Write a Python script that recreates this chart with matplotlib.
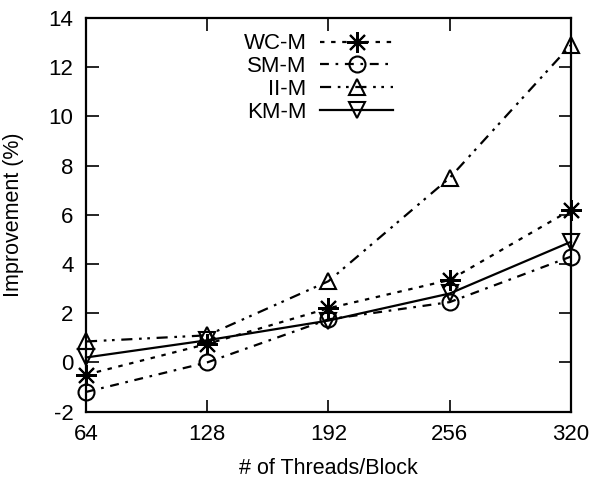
import matplotlib
matplotlib.use('Agg')
import matplotlib.pyplot as plt

plt.rcParams['font.family'] = ['Liberation Sans', 'DejaVu Sans']
plt.rcParams['axes.unicode_minus'] = False

threads = [64, 128, 192, 256, 320]
wc_m = [-0.5, 0.75, 2.2, 3.35, 6.2]
sm_m = [-1.2, 0.0, 1.75, 2.45, 4.3]
ii_m = [0.85, 1.1, 3.3, 7.5, 12.9]
km_m = [0.2, 0.9, 1.7, 2.8, 4.9]

fig = plt.figure(figsize=(5.96, 4.82), dpi=100)
ax = fig.add_axes([0.1443, 0.146, 0.8137, 0.817])

common = dict(color='black', lw=1.6, mew=1.5, mfc='none', clip_on=False)
ax.plot(threads, wc_m, label='WC-M', marker=(8, 2, 0), ms=15, ls=(0, (2, 3)), **common)
ax.plot(threads, sm_m, label='SM-M', marker='o', ms=11.5, ls=(0, (4, 3, 1.2, 3)), **common)
ax.plot(threads, ii_m, label='II-M', marker='^', ms=11.5, ls=(0, (5, 3, 1.2, 2.5, 1.2, 3)), **common)
ax.plot(threads, km_m, label='KM-M', marker='v', ms=11.5, ls='-', **common)

ax.set_xlim(64, 320)
ax.set_ylim(-2, 14)
ax.set_xticks(threads)
ax.set_yticks(range(-2, 15, 2))
ax.tick_params(direction='in', length=9, width=1.2, labelsize=16,
               top=True, right=True, pad=9)
for s in ax.spines.values():
    s.set_linewidth(1.6)

ax.set_xlabel('# of Threads/Block', fontsize=15.5, labelpad=9)
ax.set_ylabel('Improvement (%)', fontsize=15.5, labelpad=18)

leg = ax.legend(loc='upper left', bbox_to_anchor=(0.293, 1.0), frameon=False,
                markerfirst=False, fontsize=16, handlelength=3.3,
                handletextpad=0.6, labelspacing=0.08, borderaxespad=0.3)
for t in leg.get_texts():
    t.set_ha('right')
leg._legend_box.align = 'right'

fig.savefig('out.png', dpi=100)
